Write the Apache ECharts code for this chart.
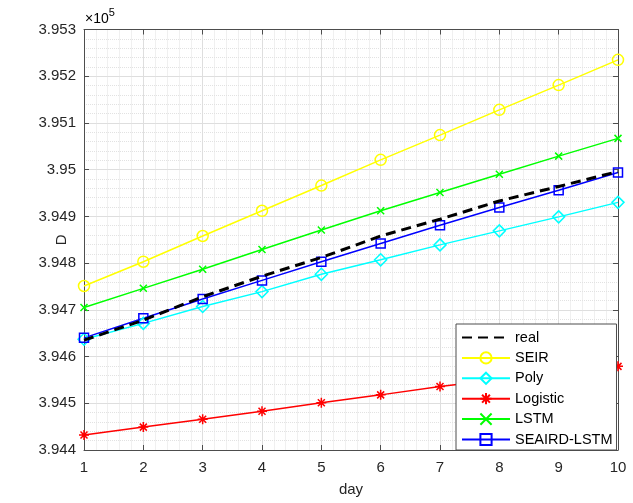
<!DOCTYPE html>
<html>
<head>
<meta charset="utf-8">
<script src="https://cdn.jsdelivr.net/npm/echarts@6/dist/echarts.min.js"></script>
<style>html,body{margin:0;padding:0;background:#fff}#c{width:633px;height:503px}</style>
</head>
<body>
<div id="c"></div>
<script>
var days = [1, 2, 3, 4, 5, 6, 7, 8, 9, 10];
var real = [394635, 394678, 394728, 394772, 394812, 394858, 394894, 394933, 394964, 394996];
var seir = [394751, 394803, 394858, 394912, 394966, 395021, 395074, 395128, 395181, 395235];
var poly = [394637, 394671, 394707, 394739, 394776, 394807, 394839, 394869, 394899, 394930];
var logistic = [394432, 394449, 394466, 394483, 394501, 394518, 394536, 394551, 394566, 394579];
var lstm = [394705, 394746, 394787, 394829, 394871, 394912, 394951, 394990, 395029, 395067];
var seairdLstm = [394640, 394682, 394723, 394763, 394803, 394842, 394881, 394919, 394956, 394994];
var yTicks = [394400, 395300, 100];

function pairs(arr) { return days.map(function (d, i) { return [d, arr[i]]; }); }

var FONT = 'Liberation Sans, Arial, sans-serif';
var AX = '#4d4d4d';
var TXT = '#262626';
var asterisk = 'path://M5,0L5,10M0,5L10,5M1.5,1.5L8.5,8.5M1.5,8.5L8.5,1.5';
var cross = 'path://M0,0L10,10M0,10L10,0';

function mkSeries(name, data, color, symbol, size) {
  return {
    name: name, type: 'line', data: pairs(data),
    symbol: symbol, symbolSize: size, showSymbol: true,
    lineStyle: { color: color, width: 1.5 },
    itemStyle: { color: 'rgba(0,0,0,0)', borderColor: color, borderWidth: 1.5 },
    emphasis: { disabled: true }, animation: false, z: 3
  };
}

var chart = echarts.init(document.getElementById('c'), null, { renderer: 'canvas' });
chart.setOption({
  backgroundColor: '#fff',
  animation: false,
  grid: { left: 84, right: 15, top: 29.5, bottom: 53, containLabel: false },
  xAxis: [{
    type: 'value', min: 1, max: 10, interval: 1,
    name: 'day', nameLocation: 'middle', nameGap: 32, nameMoveOverlap: false,
    nameTextStyle: { fontFamily: FONT, fontSize: 15, color: TXT },
    axisLine: { show: true, lineStyle: { color: AX, width: 1 } },
    axisTick: { show: true, inside: true, length: 5, lineStyle: { color: AX } },
    axisLabel: { fontFamily: FONT, fontSize: 15, color: TXT, margin: 10 },
    splitLine: { show: true, lineStyle: { color: '#dedede', width: 1 } },
    minorTick: { show: false, splitNumber: 5 },
    minorSplitLine: { show: true, lineStyle: { color: '#e2e2e2', width: 1, type: [1, 1] } }
  }, {
    type: 'value', min: 1, max: 10, interval: 1, position: 'top',
    axisLine: { show: true, lineStyle: { color: AX, width: 1 } },
    axisTick: { show: true, inside: true, length: 5, lineStyle: { color: AX } },
    axisLabel: { show: false }, splitLine: { show: false }
  }],
  yAxis: [{
    type: 'value', min: yTicks[0], max: yTicks[1], interval: yTicks[2],
    name: 'D', nameLocation: 'middle', nameGap: 15, nameRotate: 90, nameMoveOverlap: false,
    nameTextStyle: { fontFamily: FONT, fontSize: 15, color: TXT },
    axisLine: { show: true, lineStyle: { color: AX, width: 1 } },
    axisTick: { show: true, inside: true, length: 5, lineStyle: { color: AX } },
    axisLabel: { fontFamily: FONT, fontSize: 15, color: TXT, margin: 8,
      formatter: function (v) { return String(+(v / 1e5).toFixed(3)); } },
    splitLine: { show: true, lineStyle: { color: '#dedede', width: 1 } },
    minorTick: { show: false, splitNumber: 5 },
    minorSplitLine: { show: true, lineStyle: { color: '#e2e2e2', width: 1, type: [1, 1] } }
  }, {
    type: 'value', min: yTicks[0], max: yTicks[1], interval: yTicks[2], position: 'right',
    axisLine: { show: true, lineStyle: { color: AX, width: 1 } },
    axisTick: { show: true, inside: true, length: 5, lineStyle: { color: AX } },
    axisLabel: { show: false }, splitLine: { show: false }
  }],
  legend: {
    orient: 'vertical', left: 456, top: 324,
    padding: [6, 4, 3, 5], itemGap: 5.4, itemWidth: 48, itemHeight: 14,
    backgroundColor: '#fff', borderColor: AX, borderWidth: 1, borderRadius: 0,
    textStyle: { fontFamily: FONT, fontSize: 14.5, color: '#000' },
    data: [
      { name: 'real', itemStyle: { opacity: 0 } },
      'SEIR', 'Poly', 'Logistic', 'LSTM', 'SEAIRD-LSTM'
    ],
    selectedMode: false
  },
  graphic: [{
    type: 'text', left: 85, top: 7,
    style: {
      text: '{a|×10}{b|5}',
      rich: {
        a: { fontFamily: FONT, fontSize: 14, color: TXT, padding: [7, 0, 0, 0] },
        b: { fontFamily: FONT, fontSize: 11, color: TXT, padding: [0, 0, 6, 0] }
      }
    }
  }],
  series: [
    {
      name: 'real', type: 'line', data: pairs(real), symbol: 'none', showSymbol: false,
      lineStyle: { color: '#000', width: 3, type: [10, 6] },
      itemStyle: { color: '#000' }, emphasis: { disabled: true }, z: 4
    },
    mkSeries('SEIR', seir, '#ffff00', 'circle', 11),
    mkSeries('Poly', poly, '#00ffff', 'diamond', 12),
    mkSeries('Logistic', logistic, '#ff0000', asterisk, 10),
    mkSeries('LSTM', lstm, '#00ff00', cross, 7),
    mkSeries('SEAIRD-LSTM', seairdLstm, '#0000ff', 'rect', 9)
  ]
});
</script>
</body>
</html>
